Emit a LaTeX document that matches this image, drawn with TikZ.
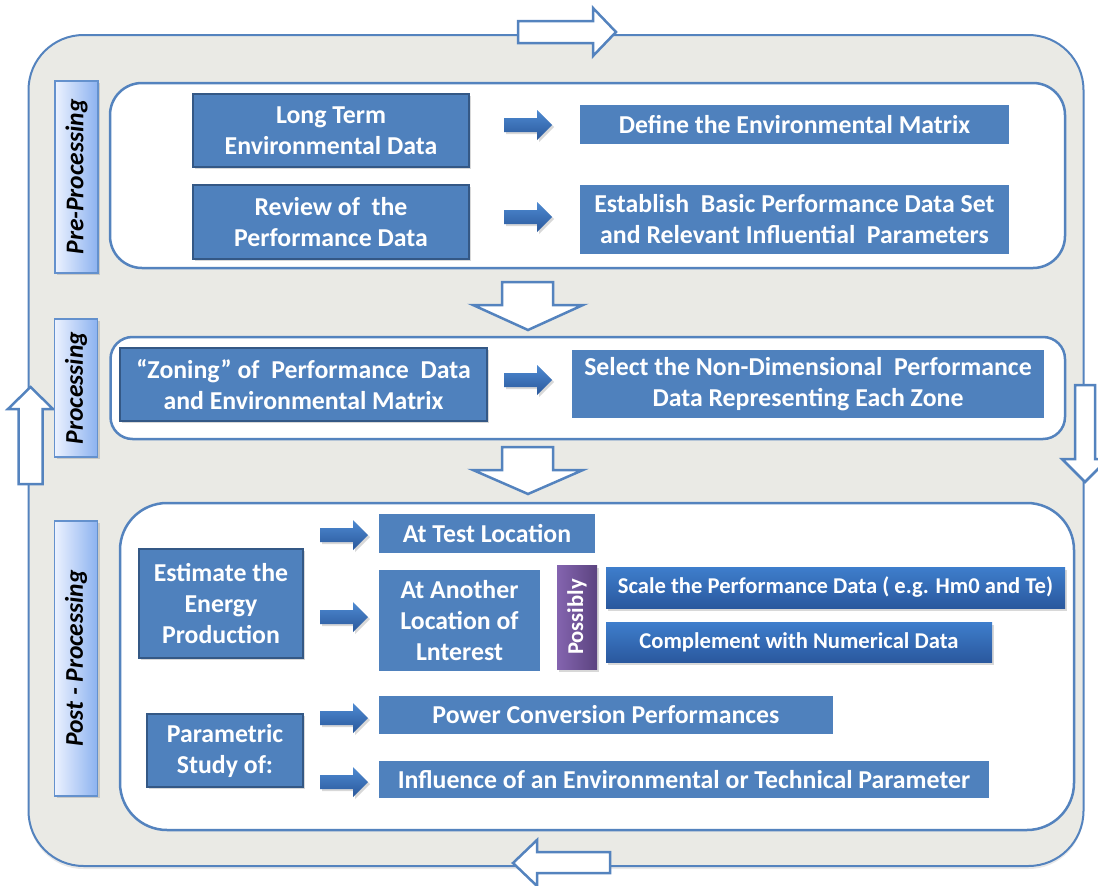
\documentclass[tikz,border=0pt]{standalone}
\usepackage{fontspec}
\setmainfont{Carlito}
\usetikzlibrary{shadows}
\definecolor{boxblue}{RGB}{79,129,189}
\definecolor{boxedge}{RGB}{52,88,133}
\definecolor{frameblue}{RGB}{84,131,190}
\definecolor{framefill}{RGB}{234,234,229}
\definecolor{lblleft}{RGB}{236,242,255}
\definecolor{lblright}{RGB}{140,178,240}
\definecolor{lbledge}{RGB}{100,145,205}
\definecolor{gradtop}{RGB}{62,126,204}
\definecolor{gradbot}{RGB}{42,88,158}
\definecolor{purpleA}{RGB}{132,100,175}
\definecolor{purpleB}{RGB}{92,68,128}
\definecolor{arrtop}{RGB}{78,138,210}
\definecolor{arrbot}{RGB}{42,88,155}
\newcommand\mainfnt{\fontsize{25.8}{31}\selectfont\bfseries}
\newcommand\smallfnt{\fontsize{22.6}{26}\selectfont\bfseries}
\newcommand\sidefnt{\fontsize{25.5}{30}\selectfont\bfseries\itshape}
\newcommand\smallarrow[2]{\path[blockarr] (#1,#2) ++(-48,-7) -- ++(33,0) -- ++(0,-8) -- ++(15,15) -- ++(-15,15) -- ++(0,-8) -- ++(-33,0) -- cycle;}
\begin{document}
\begin{tikzpicture}[x=1pt,y=-1pt,
  lbox/.style={fill=boxblue, draw=boxedge, line width=1.8pt, text=white, font=\mainfnt, align=center, inner sep=0pt,
    drop shadow={opacity=0.3, shadow xshift=2pt, shadow yshift=-2pt}},
  wbox/.style={fill=boxblue, draw=white, line width=3.5pt, text=white, font=\mainfnt, align=center, inner sep=0pt,
    drop shadow={opacity=0.25, shadow xshift=1.5pt, shadow yshift=-2.5pt}},
  gbox/.style={top color=gradtop, bottom color=gradbot, draw=none, text=white, font=\smallfnt, align=center, inner sep=0pt,
    drop shadow={opacity=0.3, shadow xshift=1.5pt, shadow yshift=-2.5pt}},
  pbox/.style={left color=purpleA, right color=purpleB, draw=none, inner sep=0pt,
    drop shadow={opacity=0.3, shadow xshift=1.5pt, shadow yshift=-2.5pt}},
  sidelabel/.style={left color=lblleft, right color=lblright, draw=lbledge, line width=1.5pt, inner sep=0pt,
    drop shadow={opacity=0.3, shadow xshift=2pt, shadow yshift=-2pt}},
  sidetext/.style={rotate=90, font=\sidefnt, text=black, inner sep=0pt},
  hollow/.style={fill=white, draw=frameblue, line width=2.5pt, line join=miter},
  blockarr/.style={top color=arrtop, bottom color=arrbot, draw=none,
    drop shadow={opacity=0.3, shadow xshift=2pt, shadow yshift=-2pt}},
  panel/.style={draw=frameblue, fill=white, line width=2.5pt}
]
\useasboundingbox (0,0) rectangle (1098,886);
% outer frame
\draw[draw=frameblue, fill=framefill, line width=2pt, rounded corners=55pt,
  drop shadow={opacity=0.18, shadow xshift=0pt, shadow yshift=-3pt}] (28.5,35) rectangle (1083.5,866);
% hollow loop arrows
\draw[hollow] (518,21) -- (593,21) -- (593,8) -- (616,32) -- (593,56) -- (593,43) -- (518,43) -- cycle;
\draw[hollow] (1075,385) -- (1095,385) -- (1095,459) -- (1108,459) -- (1085,482) -- (1062,459) -- (1075,459) -- cycle;
\draw[hollow] (610,852) -- (537,852) -- (537,840) -- (513,863) -- (537,886) -- (537,873) -- (610,873) -- cycle;
\draw[hollow] (18.5,484) -- (18.5,409) -- (8,409) -- (30.5,387) -- (53,409) -- (42.5,409) -- (42.5,484) -- cycle;
% panels
\draw[panel, rounded corners=32pt] (110,83) rectangle (1065,268);
\draw[panel, rounded corners=22pt] (110.5,337) rectangle (1065,439);
\draw[panel, rounded corners=47pt] (120,503) rectangle (1074,830);
% down arrows between panels
\draw[hollow] (502,282) -- (553,282) -- (553,305) -- (583,305) -- (528,330) -- (473,305) -- (502,305) -- cycle;
\draw[hollow] (502,447) -- (553,447) -- (553,470) -- (583,470) -- (528,494) -- (473,470) -- (502,470) -- cycle;
% side labels
\node[sidelabel, minimum width=43, minimum height=192] (pre) at (76.5,177) {};
\node[sidetext] at (pre.center) {Pre-Processing};
\node[sidelabel, minimum width=43, minimum height=138] (proc) at (76,388) {};
\node[sidetext] at (proc.center) {Processing};
\node[sidelabel, minimum width=43, minimum height=275] (post) at (76,658.5) {};
\node[sidetext] at (post.center) {Post - Processing};
% pre-processing
\node[lbox, minimum width=276, minimum height=73] (lt) at (331,130.5) {Long Term\\Environmental Data};
\node[lbox, minimum width=276, minimum height=74] (rv) at (331,222) {Review of~~the\\Performance Data};
\node[wbox, minimum width=432.5, minimum height=42.5] (df) at (794.5,124.5) {Define the Environmental Matrix};
\node[wbox, minimum width=432.5, minimum height=72.5] (es) at (794.5,219.5) {Establish~~Basic Performance Data Set\\and Relevant Influential~~Parameters};
\smallarrow{552}{125}
\smallarrow{552}{217}
% processing
\node[lbox, minimum width=367, minimum height=73] (zn) at (303.5,384.5) {“Zoning” of~~Performance~~Data\\and Environmental Matrix};
\node[wbox, minimum width=475.5, minimum height=71.5] (sl) at (808,384) {Select the Non-Dimensional~~Performance\\Data Representing Each Zone};
\smallarrow{552}{380}
% post-processing
\node[lbox, minimum width=164, minimum height=109] (ep) at (221,603.5) {Estimate the\\Energy\\Production};
\node[lbox, minimum width=156, minimum height=73] (ps) at (225,750.5) {Parametric\\Study of:};
\node[wbox, minimum width=219.5, minimum height=42.5] (tl) at (487,533.5) {At Test Location};
\node[wbox, minimum width=164.5, minimum height=104.5] (al) at (459.5,620.5) {At Another\\Location of\\Lnterest};
\node[pbox, minimum width=40, minimum height=104] (po) at (577,617) {};
\node[rotate=90, text=white, font=\smallfnt, inner sep=0pt] at (po.center) {Possibly};
\node[gbox, minimum width=459, minimum height=41] (sc) at (835.5,587.5) {Scale the Performance Data ( e.g. Hm0 and Te)};
\node[gbox, minimum width=386, minimum height=40] (cm) at (799,642) {Complement with Numerical Data};
\node[wbox, minimum width=457.5, minimum height=41.5] (pc) at (606,715) {Power Conversion Performances};
\node[wbox, minimum width=613.5, minimum height=40.5] (in) at (684,779.5) {Influence of an Environmental or Technical Parameter};
\smallarrow{368}{535}
\smallarrow{368}{617}
\smallarrow{368}{718}
\smallarrow{368}{782}
\end{tikzpicture}
\end{document}
